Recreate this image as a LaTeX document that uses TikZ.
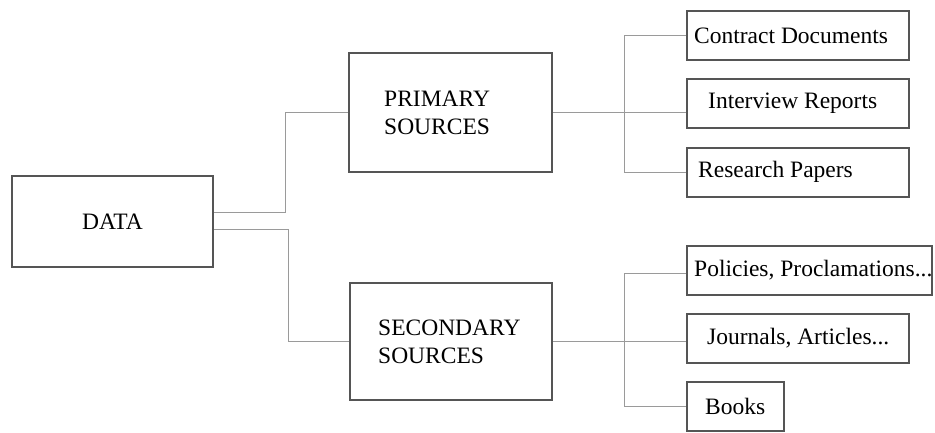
\documentclass[tikz,border=0pt]{standalone}
\usepackage{fontspec}
\setmainfont{Liberation Serif}
\usetikzlibrary{calc}
\definecolor{boxc}{HTML}{555555}
\definecolor{linec}{HTML}{9A9A9A}
\begin{document}
\begin{tikzpicture}[x=1pt,y=-1pt,
  font=\fontsize{23.5}{28}\selectfont,
  box/.style={draw=boxc, line width=2pt, inner sep=0pt, fill=white},
  leaf/.style={box, minimum height=49pt},
  txt/.style={anchor=west, inner sep=0pt, align=left, text=black},
  conn/.style={draw=linec, line width=1pt}]
\useasboundingbox (0,0) rectangle (935,432);
% main boxes
\node[box, minimum width=201pt, minimum height=91pt] (D) at (112.5,221.5) {DATA};
\node[box, minimum width=203pt, minimum height=119pt,
  label={[txt, xshift=36pt]west:PRIMARY\\SOURCES}] (P) at (450.5,112.5) {};
\node[box, minimum width=202pt, minimum height=117pt,
  label={[txt, xshift=29pt]west:SECONDARY\\SOURCES}] (S) at (451,341.5) {};
% leaves
\node[leaf, minimum width=222pt, label={[txt, xshift=8pt]west:Contract Documents}] (CD) at (798,35.5) {};
\node[leaf, minimum width=222pt, label={[txt, xshift=22pt]west:Interview Reports}] (IR) at (798,103.5) {};
\node[leaf, minimum width=222pt, label={[txt, xshift=12pt]west:Research Papers}] (RP) at (798,172) {};
\node[leaf, minimum width=245pt, label={[txt, xshift=8pt]west:Policies, Proclamations...}] (PO) at (809.5,270) {};
\node[leaf, minimum width=222pt, label={[txt, xshift=21pt]west:Journals, Articles...}] (JA) at (798,338) {};
\node[leaf, minimum width=97pt, label={[txt, xshift=19pt]west:Books}] (BK) at (735.5,406.5) {};
% junction coordinates
\coordinate (j1) at (285,0);
\coordinate (j2) at (288,0);
\coordinate (j3) at (624,0);
\coordinate (dU) at ($(D.east)+(0,-9.5)$);
\coordinate (dL) at ($(D.east)+(0,7.5)$);
\coordinate (poL) at ($(PO.west)+(0,3)$);
% connectors from DATA
\draw[conn] (dU) -- (dU -| j1) -- (P.west -| j1) -- (P.west);
\draw[conn] (dL) -- (dL -| j2) -- (S.west -| j2) -- (S.west);
% primary branch
\draw[conn] (P.east) -- (IR.west |- P.east);
\draw[conn] (CD.west) -- (CD.west -| j3) -- (RP.west -| j3) -- (RP.west);
% secondary branch
\draw[conn] (S.east) -- (JA.west |- S.east);
\draw[conn] (poL) -- (poL -| j3) -- (BK.west -| j3) -- (BK.west);
\end{tikzpicture}
\end{document}
